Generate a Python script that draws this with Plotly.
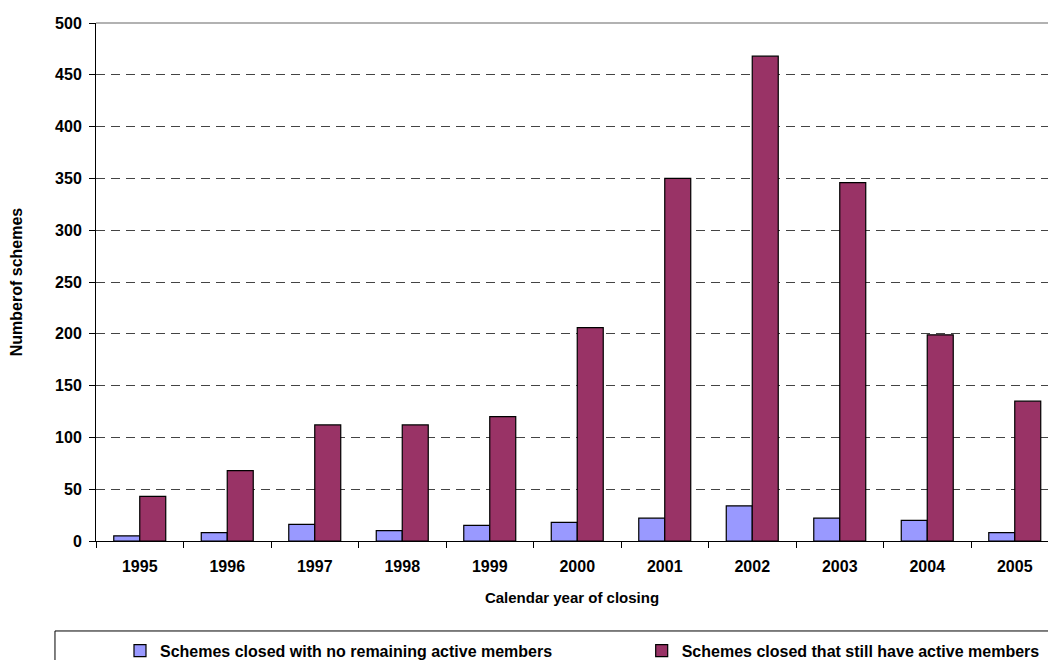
import plotly.graph_objects as go

years = ["1995", "1996", "1997", "1998", "1999", "2000", "2001", "2002", "2003", "2004", "2005"]
no_active = [5, 8, 16, 10, 15, 18, 22, 34, 22, 20, 8]
still_active = [43, 68, 112, 112, 120, 206, 350, 468, 346, 199, 135]
y_ticks = [0, 50, 100, 150, 200, 250, 300, 350, 400, 450, 500]

FONT = "Arial, Liberation Sans, sans-serif"
LEG_FONT = dict(family=FONT, size=16, weight="bold", color="black")

fig = go.Figure()
fig.add_trace(go.Bar(
    x=years, y=no_active, name="Schemes closed with no remaining active members",
    marker=dict(color="#9999FF", line=dict(color="black", width=1.2)),
    legend="legend",
))
fig.add_trace(go.Bar(
    x=years, y=still_active, name="Schemes closed that still have active members",
    marker=dict(color="#993366", line=dict(color="black", width=1.2)),
    legend="legend2",
))

fig.update_layout(
    width=1048, height=660,
    margin=dict(l=96, r=0, t=23, b=119, autoexpand=False),
    paper_bgcolor="white", plot_bgcolor="white",
    barmode="group", bargap=0.406, bargroupgap=0,
    font=dict(family=FONT, color="black", size=13),
    showlegend=True,
    legend=dict(
        orientation="h", x=0.0252, xanchor="left", y=-0.179, yanchor="top",
        font=LEG_FONT, borderwidth=0, bgcolor="rgba(0,0,0,0)",
    ),
    legend2=dict(
        orientation="h", x=0.5732, xanchor="left", y=-0.179, yanchor="top",
        font=LEG_FONT, borderwidth=0, bgcolor="rgba(0,0,0,0)",
    ),
    xaxis=dict(
        type="category", range=[-0.5, 10.38], tickson="boundaries",
        ticks="outside", ticklen=6,
        tickcolor="black", showline=True, linecolor="black", linewidth=1,
        showgrid=False, ticklabelstandoff=11,
        tickfont=dict(family=FONT, size=16, weight="bold"),
        title=dict(text="Calendar year of closing", standoff=18,
                   font=dict(family=FONT, size=15, weight="bold")),
    ),
    yaxis=dict(
        range=[0, 500], tickvals=y_ticks, ticks="outside", ticklen=6,
        tickcolor="black", showline=True, linecolor="black", linewidth=1,
        showgrid=True, gridcolor="#444444", griddash="9px,6px", gridwidth=1,
        zeroline=False, ticklabelstandoff=4,
        tickfont=dict(family=FONT, size=16, weight="bold"),
        title=dict(text="Numberof schemes", standoff=28,
                   font=dict(family=FONT, size=16, weight="bold")),
    ),
)

# top border of plot area and legend box
fig.add_shape(type="line", xref="paper", yref="paper", x0=0, x1=1, y0=1, y1=1,
              line=dict(color="#999999", width=1.5))
fig.add_shape(type="rect", xref="paper", yref="paper",
              x0=-0.0431, x1=1.02, y0=-0.1737, y1=-0.25,
              line=dict(color="black", width=1))

fig.write_html("out.html")
